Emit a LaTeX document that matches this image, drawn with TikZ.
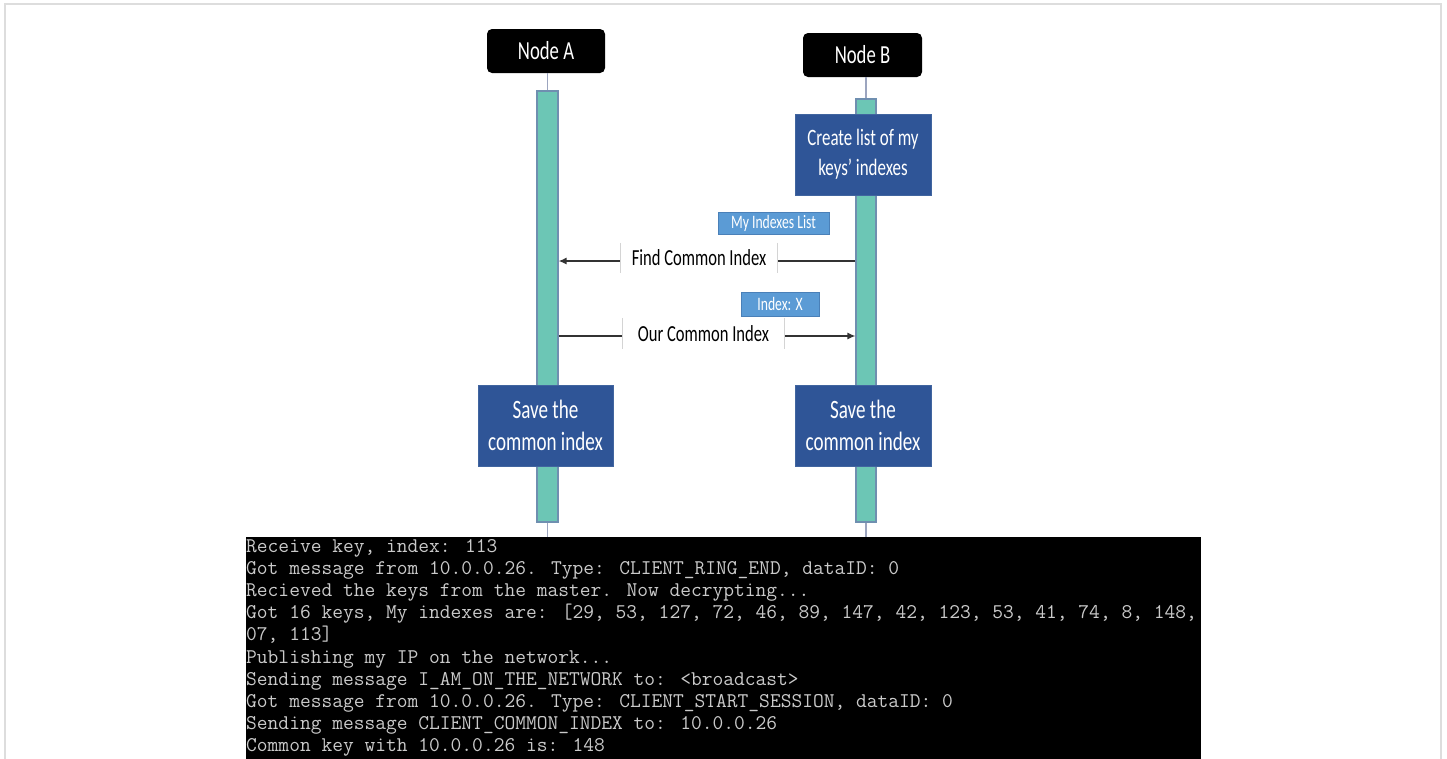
\documentclass[tikz,border=0pt]{standalone}
\usepackage{fontspec}
\newfontfamily\calcond[FakeStretch=0.72]{Carlito}
\usetikzlibrary{arrows.meta}
\definecolor{tealfill}{HTML}{6CC6B5}
\definecolor{tealedge}{HTML}{6F8FB0}
\definecolor{dkblue}{HTML}{2F5597}
\definecolor{dkblueedge}{HTML}{41659F}
\definecolor{ltblue}{HTML}{5B9BD5}
\definecolor{ltblueedge}{HTML}{4A80B8}
\definecolor{lifeline}{HTML}{9CA5BF}
\definecolor{termtext}{HTML}{CACACA}
\definecolor{framegray}{HTML}{DDDDDD}
\definecolor{sidebar}{HTML}{D4D4D4}
\definecolor{msgline}{HTML}{333333}
\begin{document}
\begin{tikzpicture}[x=1pt,y=-1pt,
  actor/.style={fill=black, rounded corners=5pt, text=white, inner sep=0pt,
    font=\calcond\fontsize{26pt}{30pt}\selectfont},
  actbar/.style={fill=tealfill, draw=tealedge, line width=1.2pt, inner sep=0pt},
  process/.style={fill=dkblue, draw=dkblueedge, line width=0.8pt, text=white, align=center, inner sep=0pt},
  tag/.style={fill=ltblue, draw=ltblueedge, line width=0.8pt, text=white, inner sep=0pt,
    font=\calcond\fontsize{19pt}{22pt}\selectfont},
  msglabel/.style={fill=white, text=black, inner sep=0pt,
    font=\calcond\fontsize{23pt}{26pt}\selectfont},
  msg/.style={draw=msgline, line width=1.3pt, -{Latex[length=8pt,width=7pt]}},
  life/.style={draw=lifeline, line width=1.5pt},
  side/.style={draw=sidebar, line width=1pt},
  termline/.style={anchor=base west, inner sep=0pt, text=termtext,
    font=\ttfamily\fontsize{20.9pt}{22pt}\selectfont}]
\clip (0,0) rectangle (1447,758);
\fill[white] (0,0) rectangle (1447,758);
\draw[framegray, line width=1.5pt] (5,4) rectangle (1441,800);

% actors
\node[actor, minimum width=118pt, minimum height=44pt] (nodeA) at (546,51) {Node A};
\node[actor, minimum width=119pt, minimum height=44pt] (nodeB) at (862.5,55) {Node B};

% terminal
\node[fill=black, minimum width=955pt, minimum height=230pt, anchor=north west, inner sep=0pt] (term) at (246,537) {};

% activation bars
\node[actbar, minimum width=21pt, minimum height=431pt] (barA) at (547.5,306.5) {};
\node[actbar, minimum width=20pt, minimum height=423pt] (barB) at (866,310.5) {};

% lifelines
\draw[life] (barA.north |- nodeA.south) -- (barA.north);
\draw[life] (barA.south) -- (barA.south |- term.north);
\draw[life] (barB.north |- nodeB.south) -- (barB.north);
\draw[life] (barB.south) -- (barB.south |- term.north);

% process boxes
\node[process, minimum width=136pt, minimum height=81pt,
  font=\calcond\fontsize{23.5pt}{30pt}\selectfont] (create) at (863,154.5) {Create list of my\\keys’ indexes};
\node[process, minimum width=135pt, minimum height=81pt,
  font=\calcond\fontsize{26.5pt}{32pt}\selectfont] (saveA) at (545.5,425.5) {Save the\\common index};
\node[process, minimum width=136pt, minimum height=81pt,
  font=\calcond\fontsize{26.5pt}{32pt}\selectfont] (saveB) at (863,425.5) {Save the\\common index};

% tags
\node[tag, minimum width=111pt, minimum height=22pt] (tag1) at (773.5,223) {My Indexes List};
\node[tag, minimum width=78pt, minimum height=24pt] (tag2) at (780,304) {Index: X};

% messages
\coordinate (m1) at (700,261);
\draw[msg] (barB.west |- m1) -- (barA.east |- m1);
\node[msglabel, minimum width=156pt, minimum height=30pt] (l1) at (699,258) {Find Common Index};
\draw[side] (l1.north west) -- (l1.south west);
\draw[side] (l1.north east) -- (l1.south east);

\coordinate (m2) at (700,336);
\draw[msg] (barA.east |- m2) -- (barB.west |- m2);
\node[msglabel, minimum width=161pt, minimum height=31pt] (l2) at (703.5,333.5) {Our Common Index};
\draw[side] (l2.north west) -- (l2.south west);
\draw[side] (l2.north east) -- (l2.south east);

% terminal text
\node[termline] (t1) at (246,552) {Receive key, index: 113};
\node[termline] (t2) at (246,574.2) {Got message from 10.0.0.26. Type: CLIENT\_RING\_END, dataID: 0};
\node[termline] (t3) at (246,596.4) {Recieved the keys from the master. Now decrypting...};
\node[termline] (t4) at (246,618.6) {Got 16 keys, My indexes are: [29, 53, 127, 72, 46, 89, 147, 42, 123, 53, 41, 74, 8, 148,};
\node[termline] (t5) at (246,640.8) {07, 113]};
\node[termline] (t6) at (246,663) {Publishing my IP on the network...};
\node[termline] (t7) at (246,685.2) {Sending message I\_AM\_ON\_THE\_NETWORK to: <broadcast>};
\node[termline] (t8) at (246,707.4) {Got message from 10.0.0.26. Type: CLIENT\_START\_SESSION, dataID: 0};
\node[termline] (t9) at (246,729.6) {Sending message CLIENT\_COMMON\_INDEX to: 10.0.0.26};
\node[termline] (t10) at (246,751.8) {Common key with 10.0.0.26 is: 148};
\end{tikzpicture}
\end{document}
